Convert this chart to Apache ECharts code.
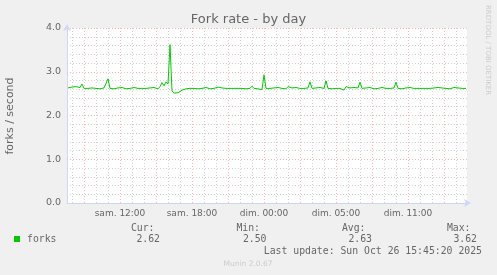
<!DOCTYPE html>
<html>
<head>
<meta charset="utf-8">
<script src="https://cdn.jsdelivr.net/npm/echarts@6/dist/echarts.min.js"></script>
<style>
html,body{margin:0;padding:0;background:#f0f0f0;}
#c{width:497px;height:275px;}
</style>
</head>
<body>
<div id="c"></div>
<script>
// Time axis in hours (Sat 00:00 local = 0), one sample every 10 minutes
var startHour = 7.6667;
var stepHour = 1 / 6;
var axisMinHour = 7.5833;
var axisMaxHour = 40.9167;
var majorHours = [9, 12, 15, 18, 21, 24, 27, 30, 33, 36, 39];
var minorHours = [8, 10, 11, 13, 14, 16, 17, 19, 20, 22, 23, 25, 26, 28, 29, 31, 32, 34, 35, 37, 38, 40];
var labelHours = [12, 18, 24, 30, 36];
var labelTexts = ['sam. 12:00', 'sam. 18:00', 'dim. 00:00', 'dim. 05:00', 'dim. 11:00'];
var yTicks = [0, 1, 2, 3, 4];

var forks = [
  2.63, 2.62, 2.65, 2.63, 2.66, 2.62, 2.64, 2.72, 2.62, 2.63,
  2.62, 2.61, 2.63, 2.62, 2.62, 2.64, 2.61, 2.62, 2.63, 2.62,
  2.84, 2.62, 2.63, 2.61, 2.62, 2.63, 2.62, 2.64, 2.62, 2.61,
  2.63, 2.62, 2.62, 2.64, 2.61, 2.62, 2.63, 2.62, 2.65, 2.62,
  2.61, 2.63, 2.62, 2.64, 2.62, 2.61, 2.66, 2.75, 2.68, 2.77,
  2.72, 3.62, 2.56, 2.51, 2.50, 2.52, 2.55, 2.58, 2.60, 2.61,
  2.62, 2.62, 2.63, 2.62, 2.62, 2.61, 2.63, 2.62, 2.62, 2.64,
  2.62, 2.61, 2.63, 2.62, 2.62, 2.65, 2.62, 2.63, 2.61, 2.62,
  2.63, 2.62, 2.64, 2.62, 2.61, 2.62, 2.63, 2.62, 2.62, 2.61,
  2.63, 2.62, 2.67, 2.62, 2.63, 2.61, 2.62, 2.59, 2.93, 2.62,
  2.63, 2.62, 2.61, 2.63, 2.62, 2.64, 2.62, 2.62, 2.63, 2.61,
  2.66, 2.62, 2.63, 2.62, 2.64, 2.61, 2.62, 2.63, 2.62, 2.62,
  2.63, 2.77, 2.62, 2.61, 2.63, 2.62, 2.64, 2.61, 2.62, 2.79,
  2.62, 2.63, 2.61, 2.64, 2.62, 2.63, 2.62, 2.61, 2.58, 2.66,
  2.62, 2.63, 2.62, 2.64, 2.61, 2.63, 2.76, 2.62, 2.61, 2.63,
  2.62, 2.64, 2.62, 2.61, 2.63, 2.62, 2.62, 2.64, 2.61, 2.62,
  2.63, 2.62, 2.61, 2.63, 2.76, 2.62, 2.63, 2.61, 2.62, 2.63,
  2.62, 2.64, 2.61, 2.62, 2.63, 2.62, 2.61, 2.62, 2.62, 2.62,
  2.62, 2.62, 2.61, 2.63, 2.62, 2.64, 2.61, 2.63, 2.62, 2.62,
  2.63, 2.61, 2.62, 2.64, 2.62, 2.63, 2.66, 2.62, 2.65, 2.62
];

var legendHeaders = ['Cur:', 'Min:', 'Avg:', 'Max:'];
var legendValues = ['2.62', '2.50', '2.63', '3.62'];

var seriesData = forks.map(function (v, i) { return [startHour + i * stepHour, v]; });

var FONT = '#666666';
var AXISC = '#CFD6F8';
var MGRID = 'rgba(240,100,100,0.45)';
var GRID = 'rgba(140,140,140,0.4)';
var mono = '"DejaVu Sans Mono", monospace';
var sans = '"DejaVu Sans", sans-serif';

var graphic = [
  { type: 'text', x: 248.5, y: 20, style: { text: 'Fork rate - by day', font: '13px ' + sans, fill: FONT, align: 'center', verticalAlign: 'middle' } },
  { type: 'text', x: 10, y: 116, rotation: Math.PI / 2, style: { text: 'forks / second', font: '11px ' + sans, fill: FONT, align: 'center', verticalAlign: 'middle' } },
  { type: 'text', x: 488, y: 5, rotation: -Math.PI / 2, style: { text: 'RRDTOOL / TOBI OETIKER', font: '7px ' + sans, fill: '#cccccc', align: 'left', verticalAlign: 'middle' } },
  { type: 'rect', shape: { x: 14, y: 236, width: 6, height: 6 }, style: { fill: '#00cc00' } },
  { type: 'text', x: 27, y: 239.5, style: { text: 'forks', font: '9.8px ' + mono, fill: FONT, align: 'left', verticalAlign: 'middle' } },
  { type: 'text', x: 482, y: 251.5, style: { text: 'Last update: Sun Oct 26 15:45:20 2025', font: '9.8px ' + mono, fill: FONT, align: 'right', verticalAlign: 'middle' } },
  { type: 'text', x: 248, y: 264.5, style: { text: 'Munin 2.0.67', font: '7.5px ' + sans, fill: '#cccccc', align: 'center', verticalAlign: 'middle' } }
];
var headerRight = [154.5, 260, 365.5, 470.5];
var valueRight = [160, 266.5, 372, 477];
for (var k = 0; k < legendHeaders.length; k++) {
  graphic.push({ type: 'text', x: headerRight[k], y: 228, style: { text: legendHeaders[k], font: '9.8px ' + mono, fill: FONT, align: 'right', verticalAlign: 'middle' } });
  graphic.push({ type: 'text', x: valueRight[k], y: 239.5, style: { text: legendValues[k], font: '9.8px ' + mono, fill: FONT, align: 'right', verticalAlign: 'middle' } });
}

var dot = [1, 2];

var chart = echarts.init(document.getElementById('c'), null, { renderer: 'canvas' });
chart.setOption({
  animation: false,
  backgroundColor: '#f0f0f0',
  grid: { left: 67, right: 30, top: 28, bottom: 72, show: true, backgroundColor: '#ffffff', borderWidth: 0 },
  xAxis: [
    {
      type: 'value', min: axisMinHour, max: axisMaxHour, gridIndex: 0,
      axisLine: { show: false },
      axisTick: { show: false, customValues: minorHours },
      axisLabel: { show: false },
      splitLine: { show: true, lineStyle: { color: GRID, width: 1, type: dot } }
    },
    {
      type: 'value', min: axisMinHour, max: axisMaxHour, gridIndex: 0, position: 'bottom',
      axisLine: { show: true, onZero: false, lineStyle: { color: AXISC, width: 1 }, symbol: ['none', 'arrow'], symbolSize: [6, 7], symbolOffset: [0, 4] },
      axisTick: { show: false, customValues: majorHours },
      axisLabel: {
        show: true, customValues: labelHours, margin: 6, color: FONT, fontFamily: 'DejaVu Sans', fontSize: 9,
        formatter: function (v) { var i = labelHours.indexOf(Math.round(v)); return i >= 0 ? labelTexts[i] : ''; }
      },
      splitLine: { show: true, lineStyle: { color: MGRID, width: 1, type: dot } }
    }
  ],
  yAxis: {
    type: 'value', min: yTicks[0], max: yTicks[yTicks.length - 1], interval: 1,
    axisLine: { show: true, lineStyle: { color: AXISC, width: 1 }, symbol: ['none', 'arrow'], symbolSize: [6, 7], symbolOffset: [0, 4] },
    axisTick: { show: false },
    axisLabel: { color: FONT, fontFamily: 'DejaVu Sans', fontSize: 9.5, margin: 6, formatter: function (v) { return v.toFixed(1); } },
    splitLine: { show: true, lineStyle: { color: MGRID, width: 1, type: dot } },
    minorTick: { show: false, splitNumber: 5 },
    minorSplitLine: { show: true, lineStyle: { color: GRID, width: 1, type: dot } }
  },
  series: [{
    type: 'line', xAxisIndex: 1, yAxisIndex: 0, data: seriesData, showSymbol: false, symbol: 'none',
    lineStyle: { color: '#00cc00', width: 1 }, z: 5
  }],
  graphic: graphic
});
</script>
</body>
</html>
